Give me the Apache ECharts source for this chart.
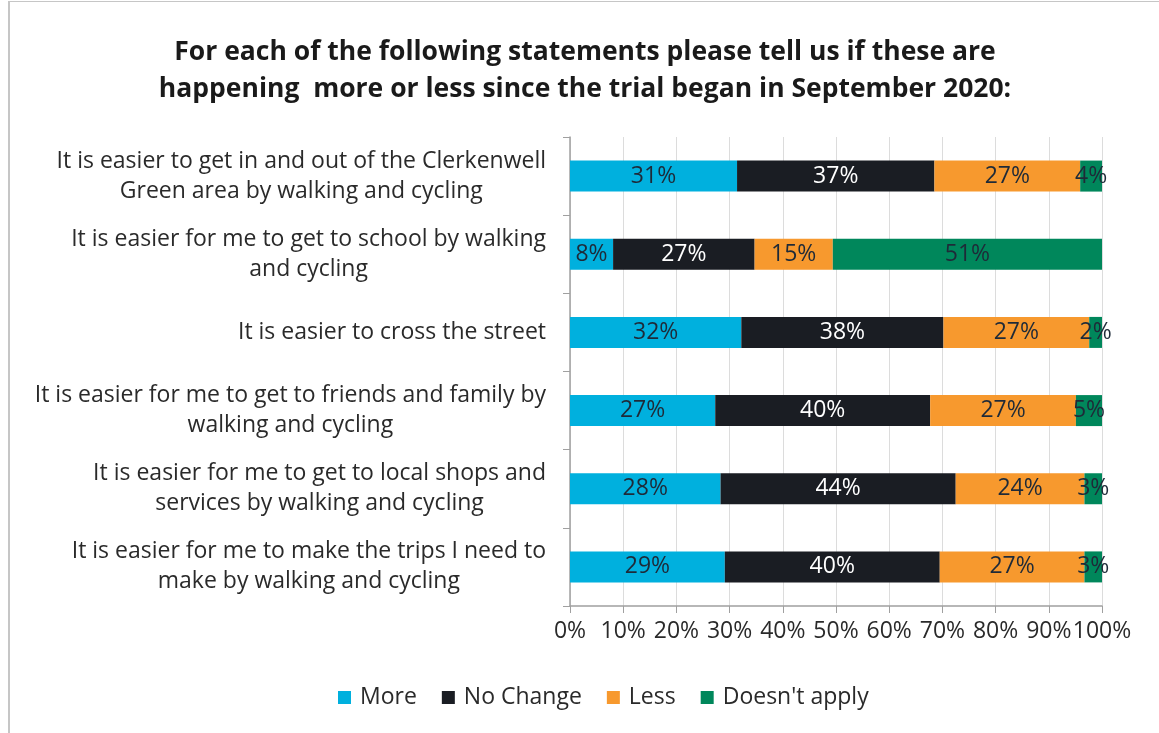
<!DOCTYPE html>
<html>
<head>
<meta charset="utf-8">
<script src="https://cdn.jsdelivr.net/npm/echarts@6/dist/echarts.min.js"></script>
<style>
  html, body { margin: 0; padding: 0; background: #fff; }
  #frame { position: absolute; left: 8px; top: 1px; width: 1151px; height: 732px;
           border-left: 2px solid #c6c6c6; border-top: 1px solid #c6c6c6; }
  #main { position: absolute; left: 0; top: 0; width: 1159px; height: 733px; }
</style>
</head>
<body>
<div id="frame"></div>
<div id="main"></div>
<script>
// statements (line breaks as wrapped in the chart)
var statements = [
  'It is easier to get in and out of the Clerkenwell\nGreen area by walking and cycling',
  'It is easier for me to get to school by walking\nand cycling',
  'It is easier to cross the street',
  'It is easier for me to get to friends and family by\nwalking and cycling',
  'It is easier for me to get to local shops and\nservices by walking and cycling',
  'It is easier for me to make the trips I need to\nmake by walking and cycling'
]
var seriesNames = ['More', 'No Change', 'Less', "Doesn't apply"]
var more = [31.4, 8.1, 32.2, 27.3, 28.3, 29.1]
var noChange = [37.1, 26.6, 38.0, 40.4, 44.2, 40.4]
var less = [27.4, 14.7, 27.4, 27.4, 24.2, 27.2]
var doesntApply = [4.1, 50.6, 2.4, 4.9, 3.3, 3.3]
var xTicks = [0, 10, 20, 30, 40, 50, 60, 70, 80, 90, 100]

var colors = ['#00b0de', '#1a1d23', '#f7992e', '#00875b']
var labelColors = ['#1e2a38', '#ffffff', '#1e2a38', '#1e2a38']
var font = "'Open Sans', 'Noto Sans', sans-serif"

var myChart = echarts.init(document.getElementById('main'))

var values = [more, noChange, less, doesntApply]
var series = seriesNames.map(function (name, i) {
  return {
    name: name,
    type: 'bar',
    stack: 'total',
    barWidth: 31,
    itemStyle: { color: colors[i] },
    label: {
      show: true,
      position: 'inside',
      color: labelColors[i],
      fontFamily: font,
      fontSize: 23,
      formatter: function (p) { return Math.round(p.value) + '%' }
    },
    data: values[i]
  }
})

myChart.setOption({
  animation: false,
  title: {
    text: 'For each of the following statements please tell us if these are\nhappening  more or less since the trial began in September 2020:',
    left: 580,
    textAlign: 'center',
    top: 29,
    textStyle: {
      fontFamily: font,
      fontWeight: 'bold',
      fontSize: 26.5,
      lineHeight: 37,
      color: '#1a1a1a'
    }
  },
  legend: {
    data: seriesNames,
    bottom: 19,
    left: 333,
    icon: 'rect',
    itemWidth: 13,
    itemHeight: 13,
    itemGap: 25,
    textStyle: { fontFamily: font, fontSize: 23, color: '#2a2a2a', padding: [0, 0, 0, 4] }
  },
  grid: {
    left: 570,
    right: 57,
    top: 137,
    bottom: 127,
    containLabel: false
  },
  xAxis: {
    type: 'value',
    min: 0,
    max: 100,
    interval: 10,
    axisLine: { show: true, lineStyle: { color: '#a0a0a0', width: 1.5 } },
    axisTick: { show: true, length: 7, lineStyle: { color: '#a0a0a0' } },
    splitLine: { show: true, lineStyle: { color: '#dcdcdc', width: 1 } },
    axisLabel: {
      margin: 14,
      fontFamily: font,
      fontSize: 23,
      color: '#2a2a2a',
      formatter: function (v) { return xTicks.indexOf(v) >= 0 ? v + '%' : '' }
    }
  },
  yAxis: {
    type: 'category',
    inverse: true,
    data: statements,
    axisLine: { show: true, lineStyle: { color: '#a0a0a0', width: 1.5 } },
    axisTick: { show: true, length: 7, lineStyle: { color: '#a0a0a0' } },
    axisLabel: {
      margin: 24,
      fontFamily: font,
      fontSize: 23,
      lineHeight: 30,
      color: '#2a2a2a',
      formatter: function (v) {
        return v.split('\n').map(function (s) { return '{c|' + s + '}' }).join('\n')
      },
      rich: {
        c: { align: 'center', fontFamily: font, fontSize: 23, lineHeight: 30, color: '#2a2a2a' }
      }
    }
  },
  series: series
})
</script>
</body>
</html>
